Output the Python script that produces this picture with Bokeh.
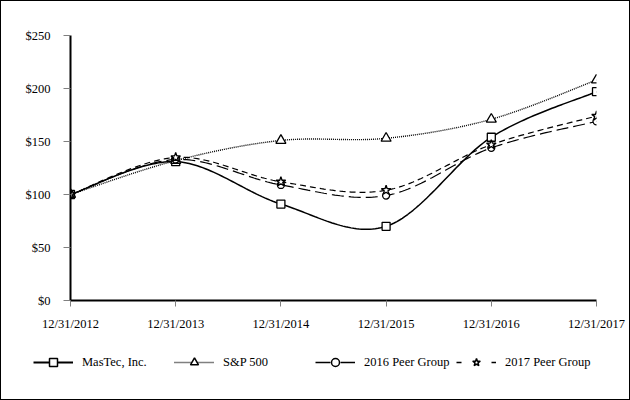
import numpy as np
from bokeh.plotting import figure
from bokeh.layouts import column
from bokeh.models import Legend, LegendItem, FixedTicker, Range1d
from bokeh.embed import file_html
from bokeh.resources import INLINE

dates = ["12/31/2012", "12/31/2013", "12/31/2014", "12/31/2015", "12/31/2016", "12/31/2017"]
y_ticks = [0, 50, 100, 150, 200, 250]
y_tick_labels = ["$0", "$50", "$100", "$150", "$200", "$250"]

mastec = [100, 131, 91, 70, 154, 197]
sp500 = [100, 132, 151, 153, 171, 208]
peer2016 = [100, 133, 109, 99, 144, 169]
peer2017 = [100, 135, 112, 104, 147, 174]

names = ["MasTec, Inc.", "S&P 500", "2016 Peer Group", "2017 Peer Group"]

FONT = "Liberation Serif"


def smooth(ys, n=40):
    """Catmull-Rom style bezier smoothing (like spreadsheet smoothed lines)."""
    xs = np.arange(len(ys), dtype=float)
    P = np.column_stack([xs, np.asarray(ys, dtype=float)])
    out_x, out_y = [], []
    t = np.linspace(0, 1, n)
    m = len(P)
    for i in range(m - 1):
        p0 = P[i]
        p3 = P[i + 1]
        prev = P[i - 1] if i > 0 else P[i]
        nxt = P[i + 2] if i + 2 < m else P[i + 1]
        c1 = p0 + (p3 - prev) / 6.0
        c2 = p3 - (nxt - p0) / 6.0
        b = ((1 - t) ** 3)[:, None] * p0 + (3 * (1 - t) ** 2 * t)[:, None] * c1 \
            + (3 * (1 - t) * t ** 2)[:, None] * c2 + (t ** 3)[:, None] * p3
        if i > 0:
            b = b[1:]
        out_x.extend(b[:, 0])
        out_y.extend(b[:, 1])
    return out_x, out_y


p = figure(width=628, height=334, output_backend="svg", toolbar_location=None,
           x_range=Range1d(0, len(dates) - 1), y_range=Range1d(0, 250),
           min_border_left=69, min_border_right=33, min_border_top=34, min_border_bottom=35)
p.outline_line_color = None
p.xgrid.visible = False
p.ygrid.visible = False
p.background_fill_color = "white"
p.border_fill_color = "white"

for ax in (p.xaxis[0], p.yaxis[0]):
    ax.axis_line_width = 2
    ax.axis_line_color = "black"
    ax.major_tick_line_color = "#808080"
    ax.major_tick_line_width = 1
    ax.major_tick_in = 0
    ax.minor_tick_line_color = None
    ax.major_label_text_font = FONT
    ax.major_label_text_font_size = "12.5px"
    ax.major_label_text_color = "black"

p.xaxis[0].ticker = FixedTicker(ticks=list(range(len(dates))))
p.xaxis[0].major_label_overrides = {i: d for i, d in enumerate(dates)}
p.xaxis[0].major_tick_out = 6
p.xaxis[0].major_label_standoff = 10

p.yaxis[0].ticker = FixedTicker(ticks=y_ticks)
p.yaxis[0].major_label_overrides = {v: l for v, l in zip(y_ticks, y_tick_labels)}
p.yaxis[0].major_tick_out = 7
p.yaxis[0].major_label_standoff = 13

# legend-only figure below the chart (its proxies are out of its visible range)
pl = figure(width=628, height=64, output_backend="svg", toolbar_location=None,
            x_range=Range1d(-20, -19), y_range=Range1d(-20, -19),
            min_border=0, min_border_left=0, min_border_right=0,
            min_border_top=0, min_border_bottom=0)
pl.frame_align = False
p.frame_align = False
pl.axis.visible = False
pl.grid.visible = False
pl.outline_line_color = None
pl.border_fill_color = "white"
pl.background_fill_color = "white"

xs = list(range(len(dates)))
series = [
    (mastec, dict(line_width=1.5, line_dash="solid"), "square", 8, "solid"),
    (sp500, dict(line_width=1.4, line_dash="1 1"), "triangle", 10, "1 1"),
    (peer2016, dict(line_width=1.2, line_dash="12 5"), "circle", 7, "15 10"),
    (peer2017, dict(line_width=1.2, line_dash="6 4"), "star", 10, "5 30"),
]

items = []
for (vals, lstyle, marker, size, leg_dash), name in zip(series, names):
    sx, sy = smooth(vals)
    p.line(sx, sy, line_color="black", **lstyle)
    p.scatter(xs, vals, marker=marker, size=size, line_color="black",
              fill_color="white", line_width=1.3)
    lr = pl.line(sx, sy, line_color="black", line_width=lstyle["line_width"] + 0.3,
                 line_dash=leg_dash)
    mr = pl.scatter(xs, vals, marker=marker, size=size, line_color="black",
                    fill_color="white", line_width=1.5)
    items.append(LegendItem(label=name, renderers=[lr, mr]))

legend = Legend(items=items, orientation="horizontal", location=(32, 27),
                glyph_width=40, glyph_height=20, label_width=91, label_standoff=9,
                spacing=1, padding=0, margin=0, border_line_color=None,
                background_fill_alpha=0, label_text_font=FONT,
                label_text_font_size="12.5px", label_text_color="black")
pl.add_layout(legend, "center")

layout = column(p, pl, spacing=0, styles={"border": "1px solid black"})

open("out.html", "w").write(file_html(layout, INLINE))
